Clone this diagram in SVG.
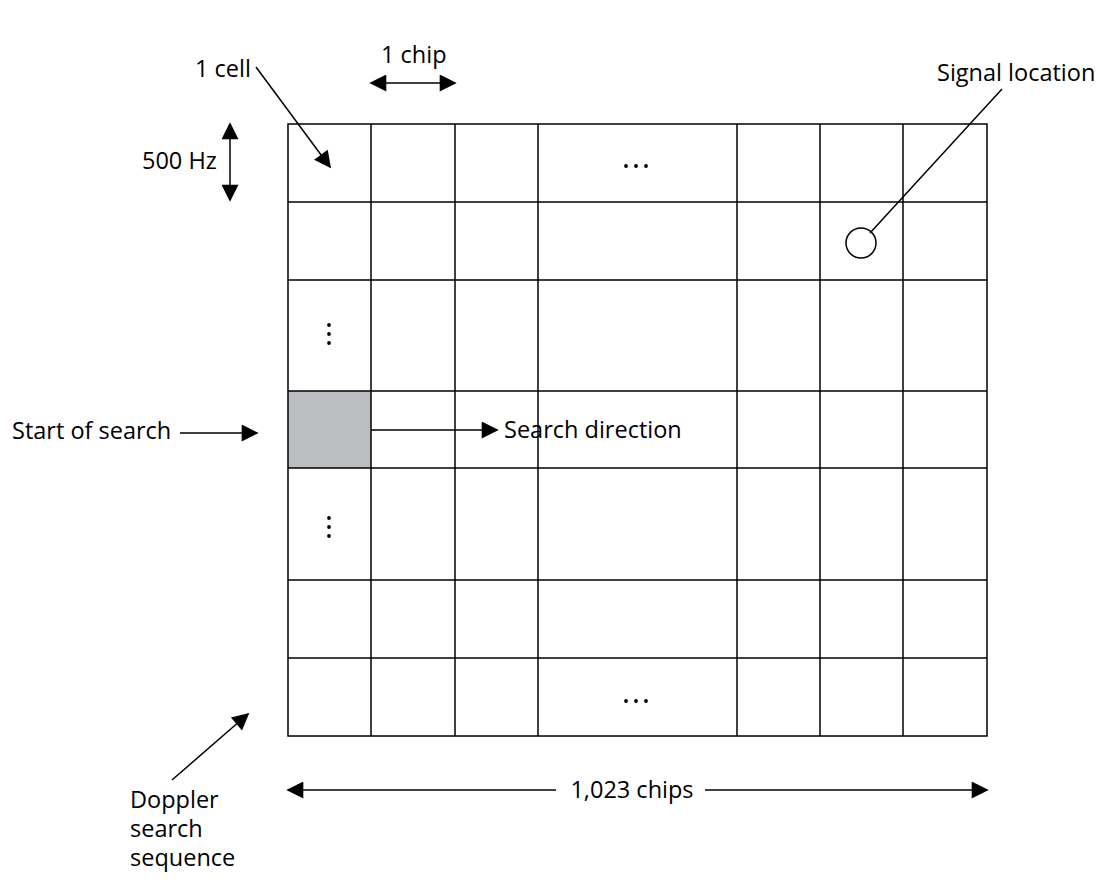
<svg xmlns="http://www.w3.org/2000/svg" width="1104" height="887" viewBox="0 0 1104 887">
<style>
text{font-family:"Open Sans","Liberation Sans",sans-serif;font-size:23.5px;fill:#000}
.g{stroke:#000;stroke-width:1.5;fill:none}
.c{stroke:#000;stroke-width:1.5;fill:none}
</style>
<defs>
<marker id="b" viewBox="0 0 10 10" refX="9" refY="5" markerWidth="20" markerHeight="17" orient="auto-start-reverse" markerUnits="userSpaceOnUse"><path d="M0,0L10,5L0,10z"/></marker>
</defs>
<rect width="1104" height="887" fill="#fff"/>
<g id="grid">
<rect x="288" y="391" width="83" height="77" fill="#bcbdc0"/>
<rect class="g" x="288" y="124" width="699" height="612"/>
<path class="g" d="M371,124V736M455,124V736M538,124V736M737,124V736M820,124V736M903,124V736M288,202H987M288,280H987M288,391H987M288,468H987M288,580H987M288,658H987"/>
<g fill="#000"><circle cx="626" cy="166" r="1.9"/><circle cx="636" cy="166" r="1.9"/><circle cx="646" cy="166" r="1.9"/>
<circle cx="626" cy="701" r="1.9"/><circle cx="636" cy="701" r="1.9"/><circle cx="646" cy="701" r="1.9"/>
<circle cx="329" cy="325" r="1.9"/><circle cx="329" cy="334" r="1.9"/><circle cx="329" cy="343" r="1.9"/>
<circle cx="329" cy="518" r="1.9"/><circle cx="329" cy="527" r="1.9"/><circle cx="329" cy="536" r="1.9"/></g>
<circle class="g" cx="861" cy="243" r="15"/>
</g>
<g id="labels">
<text x="195" y="77">1 cell</text>
<text x="381" y="63">1 chip</text>
<text x="142" y="169">500 Hz</text>
<text x="937" y="81">Signal location</text>
<text x="12" y="439">Start of search</text>
<text x="504" y="438">Search direction</text>
<text x="632" y="798" text-anchor="middle">1,023 chips</text>
<text x="130" y="808">Doppler</text>
<text x="130" y="837">search</text>
<text x="130" y="866">sequence</text>
</g>
<g id="connectors">
<path class="c" d="M256,67L330,167" marker-end="url(#b)"/>
<path class="c" d="M371,83H455" marker-start="url(#b)" marker-end="url(#b)"/>
<path class="c" d="M230,124V200" marker-start="url(#b)" marker-end="url(#b)"/>
<path class="c" d="M1002,89L870,233"/>
<path class="c" d="M180,433H257" marker-end="url(#b)"/>
<path class="c" d="M371,430H497" marker-end="url(#b)"/>
<path class="c" d="M172,780L248,714" marker-end="url(#b)"/>
<path class="c" d="M288,790H556" marker-start="url(#b)"/>
<path class="c" d="M705,790H987" marker-end="url(#b)"/>
</g>
</svg>
